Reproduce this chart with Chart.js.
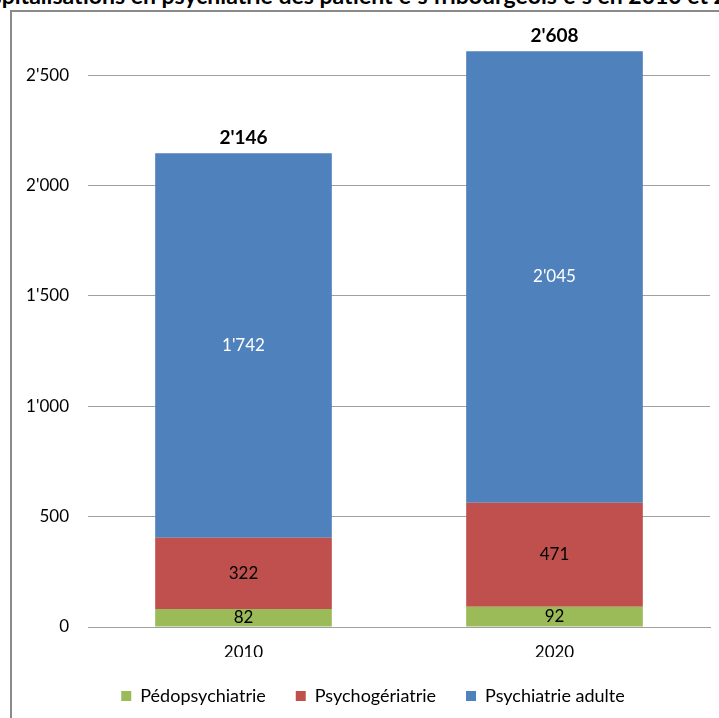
<!DOCTYPE html>
<html>
<head>
<meta charset="utf-8">
<script src="https://cdn.jsdelivr.net/npm/chart.js@4"></script>
<style>
  html, body { margin: 0; padding: 0; background: #fff; overflow: hidden; }
  body { width: 719px; height: 718px; position: relative; }
  #frame { position: absolute; left: 10px; top: 10px; width: 800px; height: 800px;
           border-left: 2px solid #8a8a8a; border-top: 2px solid #8a8a8a; }
  #title { position: absolute; left: -39px; top: -16px; white-space: nowrap;
           font: bold 23px Lato, sans-serif; line-height: 23px; color: #000; }
  #wrap { position: absolute; left: 0; top: 0; width: 719px; height: 718px; }
</style>
</head>
<body>
<div id="frame"></div>
<div id="title">Hospitalisations en psychiatrie des patient·e·s fribourgeois·e·s en 2010 et 2020</div>
<div id="wrap"><canvas id="myChart" width="719" height="718"></canvas></div>
<script>
// data
const years = ['2010', '2020'];
const pedo = [82, 92];
const psychoGer = [322, 471];
const adulte = [1742, 2045];
const yTicks = [0, 500, 1000, 1500, 2000, 2500];

const fmt = n => String(n).replace(/\B(?=(\d{3})+(?!\d))/g, "'");

// labels inside segments + totals on top
const barLabels = {
    id: 'barLabels',
    afterDatasetsDraw(chart) {
        const ctx = chart.ctx;
        ctx.save();
        ctx.textAlign = 'center';
        ctx.textBaseline = 'middle';
        chart.data.datasets.forEach((ds, i) => {
            const meta = chart.getDatasetMeta(i);
            meta.data.forEach((bar, j) => {
                ctx.font = '17px Lato';
                ctx.fillStyle = ds.labelColor;
                ctx.fillText(fmt(ds.data[j]), bar.x, (bar.y + bar.base) / 2);
            });
        });
        const last = chart.getDatasetMeta(chart.data.datasets.length - 1);
        last.data.forEach((bar, j) => {
            const total = chart.data.datasets.reduce((s, ds) => s + ds.data[j], 0);
            ctx.font = 'bold 19px Lato';
            ctx.fillStyle = '#000';
            ctx.fillText(fmt(total), bar.x, bar.y - 15);
        });
        ctx.restore();
    }
};

// nudge the legend to the right, like the original
const legendShift = {
    id: 'legendShift',
    afterLayout(chart) {
        chart.legend.left += 18;
        chart.legend.right += 18;
    }
};

const ctx = document.getElementById('myChart').getContext('2d');
const myChart = new Chart(ctx, {
    type: 'bar',
    data: {
        labels: years,
        datasets: [
            { label: 'Pédopsychiatrie', data: pedo, backgroundColor: '#9BBB59', labelColor: '#000' },
            { label: 'Psychogériatrie', data: psychoGer, backgroundColor: '#C0504D', labelColor: '#000' },
            { label: 'Psychiatrie adulte', data: adulte, backgroundColor: '#4F81BD', labelColor: '#fff' }
        ]
    },
    options: {
        responsive: false,
        animation: false,
        layout: { padding: { top: 31, right: 9, left: 0, bottom: 3 } },
        datasets: { bar: { categoryPercentage: 1, barPercentage: 0.568 } },
        plugins: {
            legend: {
                position: 'bottom',
                labels: {
                    boxWidth: 10, boxHeight: 10, padding: 30,
                    color: '#000', font: { family: 'Lato', size: 18 }
                }
            },
            tooltip: { enabled: false }
        },
        scales: {
            x: {
                stacked: true,
                grid: { display: false, drawTicks: false },
                border: { color: '#a0a0a0' },
                ticks: { color: '#000', padding: 15, font: { family: 'Lato', size: 17 } },
                afterFit: s => { s.height = 30; }
            },
            y: {
                stacked: true,
                min: 0,
                max: 2700,
                border: { display: false },
                grid: { color: '#a0a0a0', drawTicks: false },
                ticks: { color: '#000', padding: 19, font: { family: 'Lato', size: 17 }, callback: v => fmt(v) },
                afterBuildTicks: s => { s.ticks = yTicks.map(v => ({ value: v })); },
                afterFit: s => { s.width = 88; }
            }
        }
    },
    plugins: [barLabels, legendShift]
});
</script>
</body>
</html>
